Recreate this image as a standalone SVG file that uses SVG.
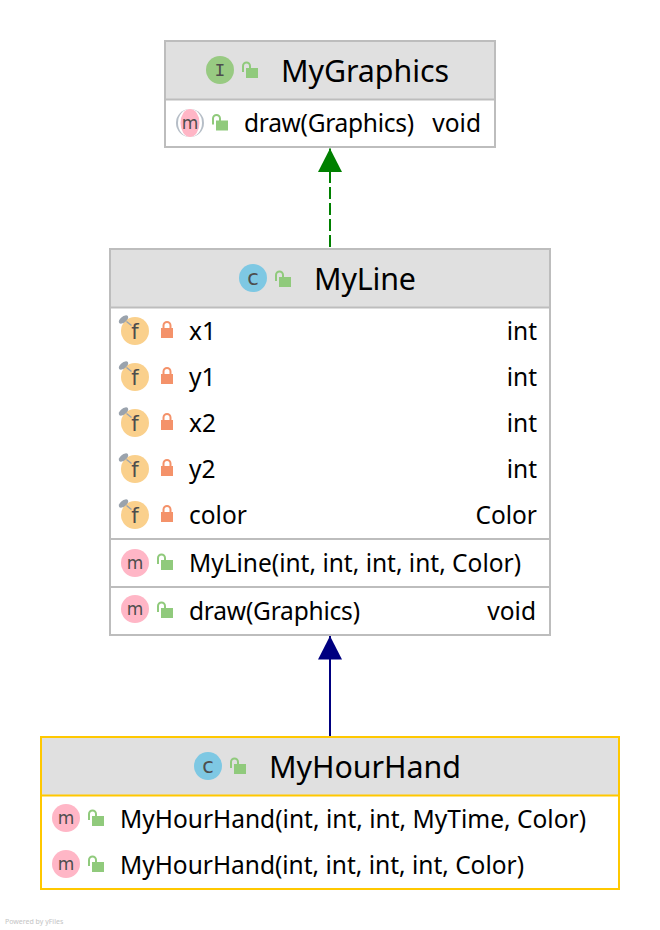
<svg xmlns="http://www.w3.org/2000/svg" xmlns:xlink="http://www.w3.org/1999/xlink" width="660" height="930" viewBox="0 0 660 930">
<style>
text{font-family:"Noto Sans","Open Sans","Liberation Sans",sans-serif;fill:#000}
.t{font-size:30.400px}.m{font-size:24.500px}
.e{text-anchor:end}
.box{fill:#fff;stroke:#bdbdbd;stroke-width:2}
.hd{fill:#e0e0e0}
.sep{stroke:#bdbdbd;stroke-width:2;fill:none}
.ybox{fill:#fff;stroke:#ffc800;stroke-width:2}
.ysep{stroke:#ffc800;stroke-width:2;fill:none}
text.ic{font-family:"DejaVu Sans",sans-serif;font-size:17px;fill:#4d4d4d;text-anchor:middle}
text.icc{font-size:21px}
text.icf{font-size:21px}
.pub{fill:#90ca7c}
.pubs{fill:none;stroke:#90ca7c;stroke-width:2}
.pri{fill:#f4926a}
.pris{fill:none;stroke:#f4926a;stroke-width:2}
</style>
<defs>
<g id="open"><rect x="4" y="8" width="12" height="10" class="pub"/><path d="M1 12V6a3.500 3.500 0 0 1 7 0V9" class="pubs"/></g>
<g id="lock"><rect x="-6" y="0" width="12" height="10" class="pri"/><path d="M-3.500 1V-2.500a3.500 3.500 0 0 1 7 0V1" class="pris"/></g>
<g id="icm"><circle r="14" fill="#ffb6c6"/></g>
<g id="icf"><circle r="14" fill="#fad08c"/><g transform="translate(-11.500 -11.500)"><ellipse rx="5.500" ry="3" transform="rotate(-38)" fill="#9aa3ad"/><path d="M3 2L8 6" stroke="#9aa3ad" stroke-width="1.500"/></g></g>
<marker id="ag" markerUnits="userSpaceOnUse" markerWidth="24" markerHeight="24" refX="23.500" refY="12" orient="auto"><path d="M0 0L23.500 12L0 24Z" fill="#008000"/></marker>
<marker id="ab" markerUnits="userSpaceOnUse" markerWidth="24" markerHeight="24" refX="23.500" refY="12" orient="auto"><path d="M0 0L23.500 12L0 24Z" fill="#000080"/></marker>
</defs>

<g id="connectors">
<path d="M330 247V148.500" fill="none" stroke="#008000" stroke-width="2" stroke-dasharray="12 4" marker-end="url(#ag)"/>
<path d="M330 736V636" fill="none" stroke="#000080" stroke-width="2" marker-end="url(#ab)"/>
</g>

<g id="MyGraphics">
<rect class="box" x="165" y="41" width="330" height="106"/>
<rect class="hd" x="166" y="42" width="328" height="57"/>
<path class="sep" d="M165 99.500H495"/>
<circle cx="220" cy="70" r="14" fill="#98ca82"/>
<text class="ic" x="220" y="76" style="font-family:'Liberation Mono',monospace;font-size:18px">I</text>
<use xlink:href="#open" href="#open" x="242" y="60"/>
<text class="t" x="281" y="82" textLength="168">MyGraphics</text>
<circle cx="190" cy="123" r="14" fill="#b6bec7"/>
<ellipse cx="190" cy="123" rx="12" ry="14" fill="#fff"/>
<ellipse cx="190" cy="123" rx="9.500" ry="14" fill="#ffb6c6"/>
<text class="ic" x="190" y="129">m</text>
<use xlink:href="#open" href="#open" x="212" y="112.500"/>
<text class="m" x="244" y="132" textLength="170">draw(Graphics)</text>
<text class="m e" x="481" y="132">void</text>
</g>

<g id="MyLine">
<rect class="box" x="110" y="249" width="440" height="386"/>
<rect class="hd" x="111" y="250" width="438" height="57"/>
<path class="sep" d="M110 307.500H550M110 539H550M110 587H550"/>
<circle cx="253" cy="278" r="14" fill="#7ec8e3"/>
<text class="ic icc" x="253" y="285">c</text>
<use xlink:href="#open" href="#open" x="275" y="269"/>
<text class="t" x="314" y="290" textLength="102">MyLine</text>

<use xlink:href="#icf" href="#icf" x="135" y="331"/><text class="ic icf" x="135" y="338.500">f</text><use xlink:href="#lock" href="#lock" x="167" y="328"/>
<text class="m" x="189" y="340">x1</text><text class="m e" x="537" y="340">int</text>
<use xlink:href="#icf" href="#icf" x="135" y="377"/><text class="ic icf" x="135" y="384.500">f</text><use xlink:href="#lock" href="#lock" x="167" y="374"/>
<text class="m" x="189" y="386">y1</text><text class="m e" x="537" y="386">int</text>
<use xlink:href="#icf" href="#icf" x="135" y="423"/><text class="ic icf" x="135" y="430.500">f</text><use xlink:href="#lock" href="#lock" x="167" y="420"/>
<text class="m" x="189" y="432">x2</text><text class="m e" x="537" y="432">int</text>
<use xlink:href="#icf" href="#icf" x="135" y="469"/><text class="ic icf" x="135" y="476.500">f</text><use xlink:href="#lock" href="#lock" x="167" y="466"/>
<text class="m" x="189" y="478">y2</text><text class="m e" x="537" y="478">int</text>
<use xlink:href="#icf" href="#icf" x="135" y="515"/><text class="ic icf" x="135" y="522.500">f</text><use xlink:href="#lock" href="#lock" x="167" y="512"/>
<text class="m" x="189" y="524">color</text><text class="m e" x="537" y="524">Color</text>

<use xlink:href="#icm" href="#icm" x="135" y="563"/><text class="ic" x="135" y="569">m</text><use xlink:href="#open" href="#open" x="157" y="552"/>
<text class="m" x="189" y="572" textLength="332">MyLine(int, int, int, int, Color)</text>
<use xlink:href="#icm" href="#icm" x="135" y="609"/><text class="ic" x="135" y="615">m</text><use xlink:href="#open" href="#open" x="157" y="600"/>
<text class="m" x="189" y="620" textLength="171">draw(Graphics)</text><text class="m e" x="536" y="620">void</text>
</g>

<g id="MyHourHand">
<rect class="ybox" x="41" y="737" width="578" height="152"/>
<rect class="hd" x="42" y="738" width="576" height="57"/>
<path class="ysep" d="M41 795.500H619"/>
<circle cx="208" cy="766" r="14" fill="#7ec8e3"/>
<text class="ic icc" x="208" y="773">c</text>
<use xlink:href="#open" href="#open" x="230" y="756"/>
<text class="t" x="269" y="778" textLength="192">MyHourHand</text>
<use xlink:href="#icm" href="#icm" x="66" y="818"/><text class="ic" x="66" y="824">m</text><use xlink:href="#open" href="#open" x="88" y="808"/>
<text class="m" x="120" y="828" textLength="466">MyHourHand(int, int, int, MyTime, Color)</text>
<use xlink:href="#icm" href="#icm" x="66" y="864"/><text class="ic" x="66" y="870">m</text><use xlink:href="#open" href="#open" x="88" y="854"/>
<text class="m" x="120" y="874" textLength="404">MyHourHand(int, int, int, int, Color)</text>
</g>

<text x="5" y="924" style="font-size:7px;fill:#c4c4c4">Powered by yFiles</text>
</svg>
